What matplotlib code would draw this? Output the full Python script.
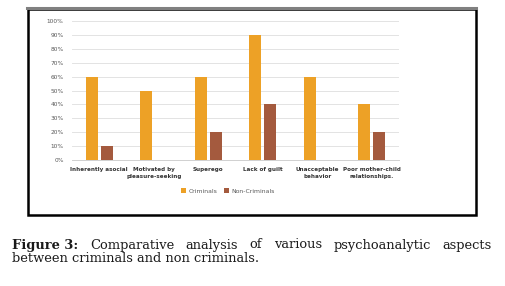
import matplotlib
matplotlib.use("Agg")
import matplotlib.pyplot as plt
from matplotlib.patches import Rectangle
from matplotlib.lines import Line2D
import numpy as np

# Data
categories = ["Inherently asocial", "Motivated by\npleasure-seeking", "Superego",
              "Lack of guilt", "Unacceptable\nbehavior", "Poor mother-child\nrelationships."]
criminals = [60, 50, 60, 90, 60, 40]
non_criminals = [10, 0, 20, 40, 0, 20]
series_names = ["Criminals", "Non-Criminals"]
yticks = list(range(0, 101, 10))

caption_bold = "Figure 3:"
caption_line1 = "Comparative analysis of various psychoanalytic aspects"
caption_line2 = "between criminals and non criminals."

W, H = 505, 286
fig = plt.figure(figsize=(W / 100, H / 100), dpi=100)
fig.patch.set_facecolor("white")

# chart frame (black box with grey top edge)
fig.add_artist(Line2D([27 / W, 476 / W], [1 - 7.5 / H, 1 - 7.5 / H], color="#808080", lw=2.2))
fig.add_artist(Rectangle((27.5 / W, 1 - 215 / H), 448 / W, 206 / H, transform=fig.transFigure,
                         fill=False, edgecolor="black", lw=1.8))

ax = fig.add_axes([72 / W, 1 - 160 / H, 327 / W, 139 / H])
x = np.arange(len(categories))
bw = 0.22
ax.bar(x - 0.14, criminals, bw, color="#EDA126", label=series_names[0], zorder=3)
ax.bar(x + 0.14, non_criminals, bw, color="#A45A3E", label=series_names[1], zorder=3)

ax.set_xlim(-0.5, len(categories) - 0.5)
ax.set_ylim(0, 100)
ax.set_yticks(yticks)
ax.set_yticklabels([f"{t}%" for t in yticks], fontsize=4.2, color="#595959")
ax.set_xticks(x)
ax.set_xticklabels(categories, fontsize=4.1, color="#333333", fontweight="semibold", linespacing=1.6)
ax.tick_params(length=0, pad=6)
ax.tick_params(axis="x", pad=5)
ax.grid(axis="y", color="#e3e3e3", lw=0.7, zorder=0)
for s in ["top", "right", "left"]:
    ax.spines[s].set_visible(False)
ax.spines["bottom"].set_color("#d0d0d0")
ax.spines["bottom"].set_linewidth(0.7)

leg = fig.legend(loc="center", bbox_to_anchor=(228 / W, 1 - 191 / H), ncol=2, frameon=False,
                 fontsize=4.4, handlelength=0.7, handleheight=0.7, handletextpad=0.4,
                 columnspacing=1.2)
for t in leg.get_texts():
    t.set_color("#595959")

# caption, justified first line
fs = 9.4
serif = "DejaVu Serif"
fig.canvas.draw()
r = fig.canvas.get_renderer()
left, right = 12, 492
y1 = 1 - 245 / H
y2 = 1 - 259 / H
words = [(caption_bold, "bold")] + [(w, "normal") for w in caption_line1.split()]
objs = []
for w, wt in words:
    t = fig.text(0, y1, w, fontsize=fs, family=serif, fontweight=wt, color="#1a1a1a", va="center")
    objs.append(t)
widths = [t.get_window_extent(r).width for t in objs]
gap = (right - left - sum(widths)) / (len(objs) - 1)
pos = left
for t, wd in zip(objs, widths):
    t.set_x(pos / W)
    pos += wd + gap
fig.text(left / W, y2, caption_line2, fontsize=fs, family=serif, color="#1a1a1a", va="center")

fig.savefig("out.png", dpi=100, facecolor="white")
